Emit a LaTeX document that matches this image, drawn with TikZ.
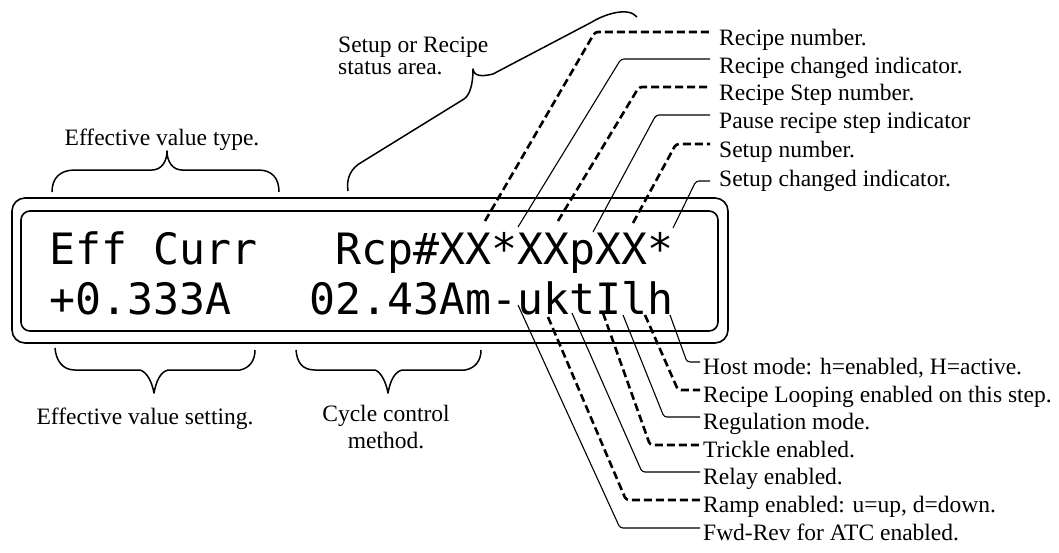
\documentclass[tikz,border=0pt]{standalone}
\usepackage{fontspec}
\setmainfont{Liberation Serif}
\newfontfamily\lcdfont{DejaVu Sans Mono}
\begin{document}
\begin{tikzpicture}[x=1pt,y=-1pt,line join=round,line cap=butt,
  lab/.style={font=\fontsize{23.5}{28}\selectfont,inner sep=0pt,anchor=base west},
  labc/.style={font=\fontsize{23.5}{28}\selectfont,inner sep=0pt,anchor=base},
  lcd/.style={font=\lcdfont\fontsize{43.2}{50}\selectfont,inner sep=0pt,anchor=base west},
  frame/.style={draw,line width=1.6pt,inner sep=0pt},
  solidlead/.style={line width=1.1pt,rounded corners=3pt},
  dashlead/.style={line width=2.6pt,dash pattern=on 8pt off 4pt,rounded corners=3pt},
  bracepath/.style={line width=1.5pt}]
\useasboundingbox (0,0) rectangle (1059,552);

% LCD frame
\node[frame,rounded corners=13pt,minimum width=716pt,minimum height=145pt] (outer) at (370,270.5) {};
\node[frame,rounded corners=9pt,minimum width=697pt,minimum height=120pt] (inner) at (369.5,271) {};

% LCD text
\node[lcd] (row1) at (48.8,264) {Eff~Curr~~~Rcp\#XX*XXpXX*};
\node[lcd] (row2) at (48.8,314) {+0.333A~~~02.43Am-uktIlh};

% upper labels
\node[lab] (u1) at (719,45) {Recipe number.};
\node[lab] (u2) at (719,73) {Recipe changed indicator.};
\node[lab] (u3) at (719,100) {Recipe Step number.};
\node[lab] (u4) at (719,128) {Pause recipe step indicator};
\node[lab] (u5) at (719,157) {Setup number.};
\node[lab] (u6) at (719,186) {Setup changed indicator.};

% lower labels
\node[lab] (l1) at (703,374) {Host mode: h=enabled, H=active.};
\node[lab] (l2) at (703,402) {Recipe Looping enabled on this step.};
\node[lab] (l3) at (703,429) {Regulation mode.};
\node[lab] (l4) at (703,457) {Trickle enabled.};
\node[lab] (l5) at (703,484) {Relay enabled.};
\node[lab] (l6) at (703,512) {Ramp enabled: u=up, d=down.};
\node[lab] (l7) at (703,540) {Fwd-Rev for ATC enabled.};

% other labels
\node[labc] (evt) at (162,145) {Effective value type.};
\node[lab] (sr1) at (338,52) {Setup or Recipe};
\node[lab] (sr2) at (338,74) {status area.};
\node[labc] (evs) at (145,424) {Effective value setting.};
\node[labc] (cc1) at (386,421) {Cycle control};
\node[labc] (cc2) at (386,448) {method.};

% leader start points on the display
\coordinate (a1) at (485,221);
\coordinate (a2) at (518,227);
\coordinate (a3) at (558,221);
\coordinate (a4) at (593,232);
\coordinate (a5) at (633,223);
\coordinate (a6) at (673,228);
\coordinate (b1) at (670,315);
\coordinate (b2) at (645,315);
\coordinate (b3) at (623,315);
\coordinate (b4) at (603,313);
\coordinate (b5) at (572,313);
\coordinate (b6) at (548,317);
\coordinate (b7) at (518,305);

% upper leaders
\draw[dashlead]  (a1) -- (595,32)  -- ([xshift=-9pt,yshift=13pt]u1.base west);
\draw[solidlead] (a2) -- (621,59)  -- ([xshift=-9pt,yshift=14pt]u2.base west);
\draw[dashlead]  (a3) -- (639,87)  -- ([xshift=-9pt,yshift=13pt]u3.base west);
\draw[solidlead] (a4) -- (656,115) -- ([xshift=-9pt,yshift=13pt]u4.base west);
\draw[dashlead]  (a5) -- (676,144) -- ([xshift=-9pt,yshift=13pt]u5.base west);
\draw[solidlead] (a6) -- (696,181) -- ([xshift=-9pt,yshift=5pt]u6.base west);

% lower leaders
\draw[solidlead] (b1) -- (687,362) -- ([xshift=-3pt,yshift=12pt]l1.base west);
\draw[dashlead]  (b2) -- (678,390) -- ([xshift=-3pt,yshift=12pt]l2.base west);
\draw[solidlead] (b3) -- (664,417) -- ([xshift=-3pt,yshift=12pt]l3.base west);
\draw[dashlead]  (b4) -- (650,445) -- ([xshift=-3pt,yshift=12pt]l4.base west);
\draw[solidlead] (b5) -- (642,472) -- ([xshift=-3pt,yshift=12pt]l5.base west);
\draw[dashlead]  (b6) -- (626,500) -- ([xshift=-3pt,yshift=12pt]l6.base west);
\draw[solidlead] (b7) -- (620,528) -- ([xshift=-3pt,yshift=12pt]l7.base west);

% braces
\draw[bracepath] (52,192) .. controls (52,178) and (60,170) .. (75,170) -- (152,170)
  .. controls (161,170) and (167,162) .. (167,151)
  .. controls (167,162) and (173,170) .. (182,170) -- (258,170)
  .. controls (272,170) and (279,178) .. (279,192);
\draw[bracepath] (55,348) .. controls (56,360) and (62,370) .. (75,370) -- (140,370)
  .. controls (147,372) and (152,382) .. (154,393)
  .. controls (156,382) and (160,372) .. (168,370) -- (240,370)
  .. controls (250,368) and (255,360) .. (255,350);
\draw[bracepath] (296,350) .. controls (297,362) and (302,370) .. (315,370) -- (375,370)
  .. controls (381,372) and (386,382) .. (388,393)
  .. controls (390,382) and (394,372) .. (402,370) -- (465,370)
  .. controls (476,368) and (481,360) .. (481,350);
\draw[bracepath] (348,191) .. controls (346,178) and (351,168) .. (362,162) -- (464,99)
  .. controls (470,95) and (473,84) .. (473,69)
  .. controls (474,76) and (481,77) .. (493,74) -- (592,22)
  .. controls (603,15) and (628,6) .. (637,17);
\end{tikzpicture}
\end{document}
